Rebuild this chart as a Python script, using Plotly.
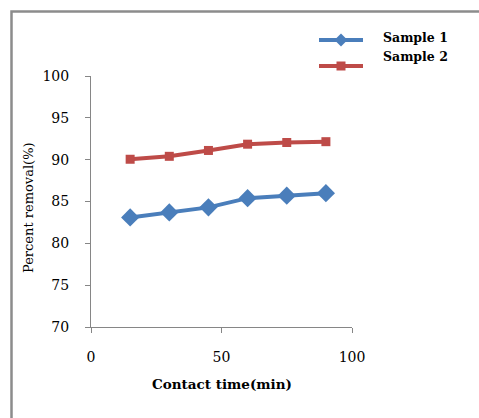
import plotly.graph_objects as go

time_min = [15, 30, 45, 60, 75, 90]
sample1 = [83.1, 83.7, 84.3, 85.4, 85.7, 86.0]
sample2 = [90.05, 90.4, 91.1, 91.85, 92.05, 92.15]
series_names = ["Sample 1", "Sample 2"]
x_ticks = [0, 50, 100]
y_ticks = [70, 75, 80, 85, 90, 95, 100]

BLUE = "#4A7EBB"
RED = "#BE4B48"
AX = "#868686"
W, H = 479, 418
L, R, T, B = 91, 352, 76, 327  # plot area in pixels
SERIF = "DejaVu Serif"

def px(x):
    return (x - L) / (R - L)

def py(y):
    return (B - y) / (B - T)

fig = go.Figure()
fig.add_trace(go.Scatter(x=time_min, y=sample1, mode="lines+markers", name=series_names[0],
                         line=dict(color=BLUE, width=4),
                         marker=dict(symbol="diamond", size=14, color=BLUE)))
fig.add_trace(go.Scatter(x=time_min, y=sample2, mode="lines+markers", name=series_names[1],
                         line=dict(color=RED, width=4),
                         marker=dict(symbol="square", size=9, color=RED)))

font_ticks = dict(family=SERIF, size=14, color="black")

fig.update_xaxes(range=[0, 100], tickvals=x_ticks, ticks="outside", ticklen=5,
                 tickcolor=AX, showline=True, linecolor=AX, linewidth=1,
                 showgrid=False, zeroline=False, tickfont=font_ticks, ticklabelstandoff=12)
fig.update_yaxes(range=[70, 100], tickvals=y_ticks, ticks="outside", ticklen=5,
                 tickcolor=AX, showline=True, linecolor=AX, linewidth=1,
                 showgrid=False, zeroline=False, tickfont=font_ticks, ticklabelstandoff=13)

shapes = []
# outer frame (left and top edges)
shapes.append(dict(type="path", xref="paper", yref="paper",
                   path=f"M {px(11.5)},{py(420)} L {px(11.5)},{py(11.5)} L {px(481)},{py(11.5)}",
                   line=dict(color="#8C8C8C", width=2.5)))
# legend samples
leg = [(40, BLUE, "diamond"), (66, RED, "square")]
for yy, col, sym in leg:
    shapes.append(dict(type="line", xref="paper", yref="paper",
                       x0=px(319), x1=px(363), y0=py(yy), y1=py(yy),
                       line=dict(color=col, width=4)))
    cx = 341
    if sym == "diamond":
        d = 6.5
        shapes.append(dict(type="path", xref="paper", yref="paper",
                           path=f"M {px(cx-d)},{py(yy)} L {px(cx)},{py(yy-d)} L {px(cx+d)},{py(yy)} L {px(cx)},{py(yy+d)} Z",
                           fillcolor=col, line=dict(color=col, width=0)))
    else:
        d = 4.5
        shapes.append(dict(type="rect", xref="paper", yref="paper",
                           x0=px(cx-d), x1=px(cx+d), y0=py(yy+d), y1=py(yy-d),
                           fillcolor=col, line=dict(color=col, width=0)))

annotations = [
    dict(text="<b>Sample 1</b>", xref="paper", yref="paper", x=px(381), y=py(38),
         xanchor="left", yanchor="middle", showarrow=False,
         font=dict(family=SERIF, size=12.5, color="black")),
    dict(text="<b>Sample 2</b>", xref="paper", yref="paper", x=px(381), y=py(56),
         xanchor="left", yanchor="middle", showarrow=False,
         font=dict(family=SERIF, size=12.5, color="black")),
    dict(text="<b>Contact time(min)</b>", xref="paper", yref="paper", x=px(222), y=py(384),
         xanchor="center", yanchor="middle", showarrow=False,
         font=dict(family=SERIF, size=13.5, color="black")),
    dict(text="Percent removal(%)", xref="paper", yref="paper", x=px(28), y=py(208),
         xanchor="center", yanchor="middle", showarrow=False, textangle=-90,
         font=dict(family=SERIF, size=13, color="black")),
]

fig.update_layout(width=W, height=H, margin=dict(l=L, r=W - R, t=T, b=H - B),
                  paper_bgcolor="white", plot_bgcolor="white", showlegend=False,
                  shapes=shapes, annotations=annotations)

fig.write_html("out.html")
